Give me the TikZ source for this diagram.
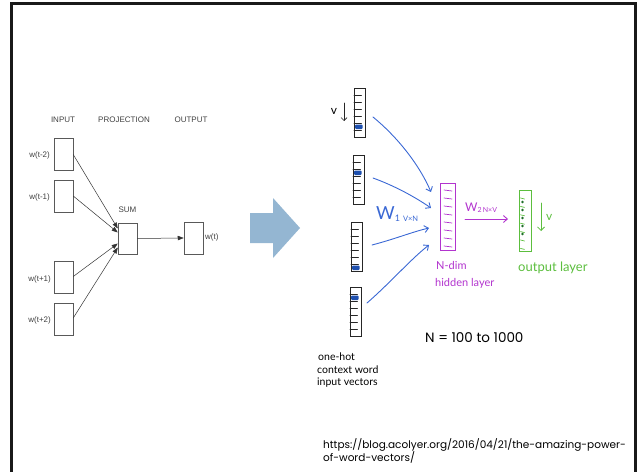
\documentclass[tikz,border=0pt]{standalone}
\usepackage{fontspec}
\setmainfont{Liberation Sans}
\newfontfamily\geo{Poppins}
\newfontfamily\hand{Lato}
\usetikzlibrary{arrows.meta,calc}

\definecolor{slideblue}{RGB}{148,182,210}
\definecolor{penblue}{RGB}{58,104,212}
\definecolor{hotblue}{RGB}{30,80,175}
\definecolor{penpurple}{RGB}{178,52,206}
\definecolor{pengreen}{RGB}{92,190,62}
\definecolor{dotgreen}{RGB}{30,110,40}

% one-hot input vector: name, left x, top y, index of the hot cell
\newcommand\sketchvec[4]{%
  \fill[hotblue, rounded corners=1pt] (#2+1.2,#3+#4*7+1.5) rectangle (#2+8.5,#3+#4*7+6);
  \node[vecbox, anchor=north west] (#1) at (#2,#3) {};
  \foreach \k in {1,...,6} \draw[pen] (#2,#3+\k*7) -- (#2+7.5,#3+\k*7);
}

\begin{document}
\begin{tikzpicture}[x=1pt, y=-1pt,
  box/.style={draw=black!65, line width=0.5pt, fill=white, minimum width=19pt,
    minimum height=32pt, inner sep=0pt},
  flow/.style={draw=black!80, line width=0.5pt, -{Triangle[length=6pt,width=4.5pt]}},
  lbl/.style={font=\fontsize{8}{9}\selectfont, text=black!75, inner sep=0pt},
  pen/.style={draw=black!85, line width=0.7pt, line cap=round},
  vecbox/.style={draw=black!85, line width=0.8pt, minimum width=11pt,
    minimum height=49pt, inner sep=0pt},
  bluepen/.style={draw=penblue, line width=0.9pt, line cap=round,
    -{Straight Barb[length=4pt,width=7pt]}},
  handtxt/.style={font=\hand, inner sep=0pt, anchor=west},
]
\useasboundingbox (0,0) rectangle (639,471);

% slide frame
\draw[line width=3pt, black!90] (11.5,472) -- (11.5,3) -- (635.5,3) -- (635.5,472);

% ---------- CBOW architecture ----------
\node[lbl] (hin)  at (63,120)  {INPUT};
\node[lbl] (hpro) at (124,120) {PROJECTION};
\node[lbl] (hout) at (191,120) {OUTPUT};

\node[box] (in1) at (63.5,154.5) {};
\node[box] (in2) at (63.5,196)   {};
\node[box] (in3) at (63.5,277.5) {};
\node[box] (in4) at (63.5,319)   {};
\node[box, minimum height=31pt] (sum) at (127.5,238.5) {};
\node[box] (outw) at (193.5,238) {};

\node[lbl, anchor=east] (l1) at (50,155) {w(t-2)};
\node[lbl, anchor=east] (l2) at (50,197) {w(t-1)};
\node[lbl, anchor=east] (l3) at (51,279) {w(t+1)};
\node[lbl, anchor=east] (l4) at (51,320) {w(t+2)};
\node[lbl] (lsum) at (127.5,210) {SUM};
\node[lbl, anchor=west] (lw) at (205,237) {w(t)};

\coordinate (a1) at ([yshift=10pt]sum.west);
\coordinate (a2) at ([yshift=6pt]sum.west);
\coordinate (a3) at ([yshift=-5pt]sum.west);
\coordinate (a4) at ([yshift=-9pt]sum.west);
\draw[flow] (in1.east) -- (a1);
\draw[flow] (in2.east) -- (a2);
\draw[flow] ([yshift=1pt]in3.east) -- (a3);
\draw[flow] ([yshift=1pt]in4.east) -- (a4);
\draw[flow] (sum.east) -- (outw.west);

% ---------- block arrow ----------
\fill[slideblue] (250,213) -- (273,213) -- (273,198) -- (300,228) -- (273,258)
  -- (273,243) -- (250,243) -- cycle;

% ---------- sketched network ----------
\sketchvec{v1}{354}{88}{5}
\sketchvec{v2}{353}{155}{2}
\sketchvec{v3}{351}{222}{6}
\sketchvec{v4}{350}{287}{1}

% vocabulary size marker
\node[font=\hand\fontsize{12}{12}\selectfont, inner sep=0pt] (vlab) at (334,111) {v};
\coordinate (vt) at (344,103);
\coordinate (vb) at (344,121);
\draw[pen, -{Straight Barb[length=3pt,width=6pt]}] (vt) -- (vb);

% hidden layer
\node[draw=penpurple, line width=1pt, minimum width=15pt, minimum height=67pt,
  inner sep=0pt, anchor=north west] (hid) at (440,183) {};
\foreach \k in {0,...,7}
  \draw[penpurple, line width=0.7pt, line cap=round] (444,190+\k*8) -- (452,191+\k*8);

% output layer
\node[draw=pengreen, line width=1pt, minimum width=12pt, minimum height=61pt,
  inner sep=0pt, anchor=north west] (outl) at (519,190) {};
\foreach \k in {0,...,6}
  \draw[pengreen, line width=0.7pt, line cap=round] (520.5,198+\k*8.4) -- (524.5,199+\k*8.4);
\foreach \k in {0,...,4}
  \fill[dotgreen] (522.5,202+\k*8) circle (1.3pt);

% connections into the hidden layer
\coordinate (s1) at (373,117);
\coordinate (s2) at (373,178);
\coordinate (s3) at (372,245);
\coordinate (s4) at (367,303);
\coordinate (e1) at (431,192);
\coordinate (e2) at (431,208);
\coordinate (e3) at (429,228);
\coordinate (e4) at (429,245);
\draw[bluepen] (s1) .. controls (395,135) and (418,162) .. (e1);
\draw[bluepen] (s2) .. controls (395,186) and (415,197) .. (e2);
\draw[bluepen] (s3) .. controls (395,239) and (412,232) .. (e3);
\draw[bluepen] (s4) .. controls (390,283) and (412,258) .. (e4);

\node[handtxt, text=penblue] (w1) at (376,214)
  {\fontsize{18}{18}\selectfont W\raisebox{-2pt}{\fontsize{9}{10}\selectfont 1}\,\raisebox{-2pt}{\fontsize{7.5}{8}\selectfont V×N}};

% hidden to output
\coordinate (h2o) at (465,219);
\coordinate (o2h) at (508,219);
\draw[draw=penpurple, line width=0.9pt, line cap=round,
  -{Straight Barb[length=4pt,width=7pt]}] (h2o) -- (o2h);
\node[handtxt, text=penpurple] (w2) at (465,208)
  {\fontsize{12}{12}\selectfont W\raisebox{-1pt}{\fontsize{7}{8}\selectfont 2\,N×V}};

% output size marker
\coordinate (gt) at (541,203);
\coordinate (gb) at (541,231);
\draw[draw=pengreen, line width=0.8pt, line cap=round,
  -{Straight Barb[length=3.5pt,width=7pt]}] (gt) -- (gb);
\node[handtxt, text=pengreen, font=\hand\fontsize{12}{12}\selectfont] (gv) at (546,217) {v};

% captions
\node[handtxt, text=penpurple, font=\hand\fontsize{11}{12}\selectfont] (c1) at (436,265) {N-dim};
\node[handtxt, text=penpurple, font=\hand\fontsize{11}{12}\selectfont] (c2) at (435,283) {hidden layer};
\node[handtxt, text=pengreen, font=\hand\fontsize{13}{14}\selectfont] (c3) at (518,268) {output layer};
\node[handtxt, text=black, font=\hand\fontsize{10.5}{12}\selectfont] (c4) at (318,357) {one-hot};
\node[handtxt, text=black, font=\hand\fontsize{10.5}{12}\selectfont] (c5) at (317,370) {context word};
\node[handtxt, text=black, font=\hand\fontsize{10.5}{12}\selectfont] (c6) at (317,383) {input vectors};

\node[font=\geo\fontsize{13.5}{14}\selectfont, inner sep=0pt, anchor=west] (nn) at (425,338) {N = 100 to 1000};

\node[font=\geo\fontsize{10.5}{12}\selectfont, inner sep=0pt, anchor=north west, align=left] (url)
  at (323,438) {https://blog.acolyer.org/2016/04/21/the-amazing-power-\\of-word-vectors/};
\end{tikzpicture}
\end{document}
